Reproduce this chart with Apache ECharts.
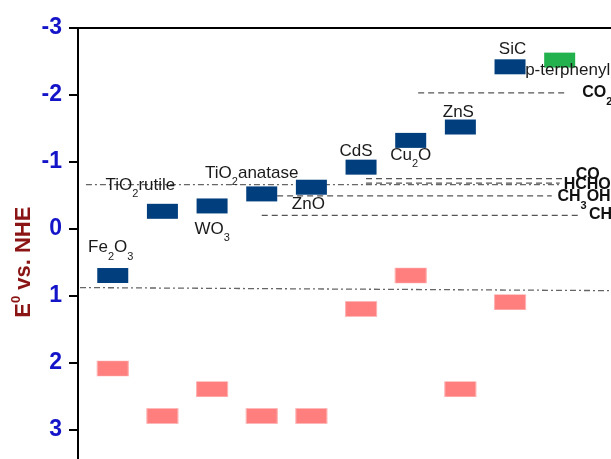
<!DOCTYPE html>
<html><head><meta charset="utf-8">
<script src="https://cdn.jsdelivr.net/npm/echarts@6/dist/echarts.min.js"></script>
<style>html,body{margin:0;padding:0;background:#fff}#c{width:611px;height:459px}</style>
</head><body><div id="c"></div>
<script>
// ---- data ----
const materials = ['Fe2O3','TiO2 rutile','WO3','TiO2 anatase','ZnO','CdS','Cu2O','ZnS','SiC','p-terphenyl'];
const materialLabels = ['Fe{s|2}O{s|3}','TiO{s|2}rutile','WO{s|3}','TiO{s|2}anatase','ZnO','CdS','Cu{s|2}O','ZnS','SiC','p-terphenyl'];
const positions = [1,2,3,4,5,6,7,8,9,10];
const cbPotentials = [0.70,-0.26,-0.34,-0.52,-0.62,-0.92,-1.32,-1.52,-2.42,-2.52];
const vbPotentials = [2.09,2.80,2.40,2.80,2.80,1.20,0.70,2.40,1.10,null];

const redoxLabels = ['CO{s|2}/CO{s|2}•⁻','CO','HCHO','CH{s|3}OH','CH{s|4}'];
const redoxPotentials = [-2.03,-0.75,-0.68,-0.49,-0.20];
const redoxStartX = [7.15,6.10,6.10,4.31,4.00];
const redoxEndX = [10.17,10.11,10.00,9.84,10.37];

const waterStartPot = [-0.66,0.88];
const waterEndPot = [-0.66,0.93];
const waterStartX = [0.46,0.34];
const waterEndX = [10.00,12.0];

const yTicks = [-3,-2,-1,0,1,2,3];

// ---- styles ----
const BAR_W = 31, BAR_H = 15;
const materialLabelOffsets = [[-2,-28],[-22,-26],[0,23],[-10,-21],[-3,17.5],[-5,-16],[0,14.5],[-2,-15],[2.5,-17],[8,10]];
const redoxLabelOffsets = [[14,0],[10.5,-4],[4,1],[5.7,1],[11,-1]];
const FONT = 'Liberation Sans, Arial, sans-serif';
const subRich = {
  s: {fontSize: 11, fontFamily: FONT, color: '#222', padding: [18,0,0,0]}
};
const CB_COLOR = '#003e7e', VB_COLOR = '#ff7f7f', ORG_COLOR = '#22b14c';

const cbData = positions.map((x,i) => ({
  value: [x, cbPotentials[i]],
  itemStyle: {color: i === 9 ? ORG_COLOR : CB_COLOR, opacity: 1},
  label: {
    show: true,
    position: [BAR_W / 2 + materialLabelOffsets[i][0], BAR_H / 2 + materialLabelOffsets[i][1]],
    align: 'center', verticalAlign: 'middle',
    formatter: materialLabels[i], fontSize: 17, fontFamily: FONT, color: '#1a1a1a', rich: subRich
  }
}));
const vbData = positions.map((x,i) => vbPotentials[i] == null ? null : ({value: [x, vbPotentials[i]]})).filter(d => d);

const series = [];
redoxPotentials.forEach((p,i) => {
  series.push({
    type: 'line', silent: true, symbol: 'none', z: 1,
    data: [[redoxStartX[i], p], [redoxEndX[i], p]],
    lineStyle: {color: '#555', width: 1.3, type: [6,4]},
    endLabel: {
      show: true, distance: 0, offset: redoxLabelOffsets[i],
      formatter: () => redoxLabels[i],
      fontSize: 16, fontWeight: 'bold', fontFamily: FONT, color: '#111',
      rich: {s: {fontSize: 11, fontWeight: 'bold', fontFamily: FONT, color: '#111', padding: [18,0,0,0]}}
    }
  });
});
waterStartPot.forEach((p,i) => {
  series.push({
    type: 'line', silent: true, symbol: 'none', z: 1,
    data: [[waterStartX[i], p], [waterEndX[i], waterEndPot[i]]],
    lineStyle: {color: '#666', width: 1.3, type: [6,3,2,3]}
  });
});
series.push({
  type: 'scatter', symbol: 'rect', symbolSize: [BAR_W, BAR_H], z: 3,
  data: vbData, itemStyle: {color: VB_COLOR, opacity: 1, borderColor: '#ffb0b0', borderWidth: 0.8}
});
series.push({
  type: 'scatter', symbol: 'rect', symbolSize: [BAR_W, BAR_H], z: 3,
  data: cbData, itemStyle: {opacity: 1}
});

const chart = echarts.init(document.getElementById('c'), null, {renderer: 'canvas'});
chart.setOption({
  animation: false,
  backgroundColor: '#fff',
  grid: {left: 78, top: 28, width: 581, height: 468.3, outerBoundsMode: 'none', containLabel: false},
  xAxis: {
    type: 'value', min: 0.3, max: 12, position: 'top',
    axisLine: {show: true, onZero: false, lineStyle: {color: '#000', width: 2}},
    axisTick: {show: false}, axisLabel: {show: false}, splitLine: {show: false}
  },
  yAxis: {
    type: 'value', inverse: true, min: -3, max: 4, interval: 1,
    axisLine: {show: true, onZero: false, lineStyle: {color: '#000', width: 2}},
    axisTick: {show: true, inside: false, length: 9, lineStyle: {color: '#000', width: 2}},
    axisLabel: {
      color: '#1414c8', fontSize: 23, fontWeight: 'bold', fontFamily: FONT, margin: 16,
      formatter: v => yTicks.includes(v) ? String(v) : ''
    },
    splitLine: {show: false},
    name: 'E{sup|0} vs. NHE', nameLocation: 'middle', nameGap: 41, nameRotate: 90,
    nameMoveOverlap: false,
    nameTextStyle: {
      color: '#8b1414', fontSize: 22, fontWeight: 'bold', fontFamily: FONT,
      rich: {sup: {fontSize: 13, fontWeight: 'bold', color: '#8b1414', fontFamily: FONT, padding: [0,0,14,0]}}
    }
  },
  series: series
});
</script></body></html>
